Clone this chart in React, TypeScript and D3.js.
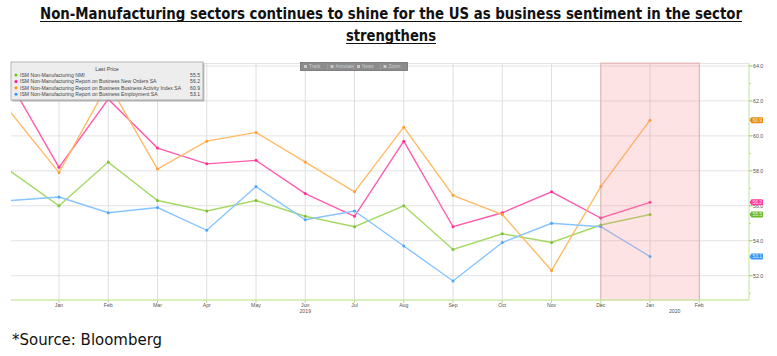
import React from "react";
import * as d3 from "d3";

const monthLabels = ["Dec", "Jan", "Feb", "Mar", "Apr", "May", "Jun", "Jul", "Aug", "Sep", "Oct", "Nov", "Dec", "Jan", "Feb"];
const yearLabels = [{ label: "2019", at: 6 }, { label: "2020", at: 13.5 }];
const nmi = [58.0, 56.0, 58.5, 56.3, 55.7, 56.3, 55.4, 54.8, 56.0, 53.5, 54.4, 53.9, 54.9, 55.5];
const newOrders = [63.1, 58.2, 62.1, 59.3, 58.4, 58.6, 56.7, 55.4, 59.7, 54.8, 55.6, 56.8, 55.3, 56.2];
const businessActivity = [61.4, 57.9, 63.0, 58.1, 59.7, 60.2, 58.5, 56.8, 60.5, 56.6, 55.5, 52.3, 57.1, 60.9];
const employment = [56.3, 56.5, 55.6, 55.9, 54.6, 57.1, 55.2, 55.7, 53.7, 51.7, 53.9, 55.0, 54.8, 53.1];
const yTicks = [52, 54, 56, 58, 60, 62, 64];
const yMinorTicks = [51, 53, 55, 57, 59, 61, 63];
const shadeRange = [12, 14];

const series = [
  { name: "ISM Non-Manufacturing NMI", values: nmi, line: "#a5d965", dot: "#7cc230", tag: "#6ab82a", legend: "#66cc00" },
  { name: "ISM Non-Manufacturing Report on Business New Orders SA", values: newOrders, line: "#ff5cad", dot: "#ff2f95", tag: "#ff3a9a", legend: "#ff1493" },
  { name: "ISM Non-Manufacturing Report on Business Business Activity Index SA", values: businessActivity, line: "#ffbb66", dot: "#ff9f30", tag: "#e38d10", legend: "#ff9900" },
  { name: "ISM Non-Manufacturing Report on Business Employment SA", values: employment, line: "#88c4ff", dot: "#4da6ff", tag: "#3d96f0", legend: "#3399ff" },
];

const W = 777;
const H = 356;
const left = 11;
const right = 749;
const top = 63;
const bottom = 300;

export default function App() {
  const x = d3.scaleLinear().domain([1, 14]).range([59, 699.3]);
  const y = d3.scaleLinear().domain([50.61, 64.17]).range([bottom, top]);
  const line = d3
    .line<number>()
    .x((_, i) => x(i))
    .y((v) => y(v));
  const small = "Liberation Sans, Arial, sans-serif";
  const title = "Liberation Sans Narrow, DejaVu Sans Condensed, Arial Narrow, sans-serif";
  const tickIdx = d3.range(1, 15);

  return (
    <svg width={W} height={H} style={{ position: "absolute", left: 0, top: 0, background: "#fff" }}>
      <defs>
        <clipPath id="plot">
          <rect x={left} y={top} width={right - left} height={bottom - top} />
        </clipPath>
      </defs>
      {/* title */}
      <text x={40} y={19} fontFamily={title} fontWeight="bold" fontSize={15} textLength={702} lengthAdjust="spacingAndGlyphs" fill="#111">
        Non-Manufacturing sectors continues to shine for the US as business sentiment in the sector
      </text>
      <line x1={40} x2={742} y1={21.5} y2={21.5} stroke="#111" strokeWidth={1} />
      <text x={346} y={41} fontFamily={title} fontWeight="bold" fontSize={15} textLength={90} lengthAdjust="spacingAndGlyphs" fill="#111">
        strengthens
      </text>
      <line x1={346} x2={436} y1={43.5} y2={43.5} stroke="#111" strokeWidth={1} />

      {/* grid */}
      <line x1={left} x2={right} y1={top + 0.5} y2={top + 0.5} stroke="#e4e4e4" />
      {yTicks.map((t) => (
        <line key={"h" + t} x1={left} x2={right} y1={y(t)} y2={y(t)} stroke="#e2e2e2" strokeWidth={1} />
      ))}
      {tickIdx.map((i) => (
        <line key={"v" + i} x1={x(i)} x2={x(i)} y1={top} y2={bottom} stroke="#dedede" strokeWidth={1} />
      ))}

      {/* lines */}
      <g clipPath="url(#plot)">
        {series.map((s) => (
          <g key={s.name}>
            <path d={line(s.values) || ""} fill="none" stroke={s.line} strokeWidth={1.4} />
            {s.values.map((v, i) => (
              <circle key={i} cx={x(i)} cy={y(v)} r={1.5} fill={s.dot} />
            ))}
          </g>
        ))}
      </g>

      {/* shaded region */}
      <rect
        x={x(shadeRange[0])}
        y={top}
        width={x(shadeRange[1]) - x(shadeRange[0])}
        height={bottom - top}
        fill="rgba(245,140,140,0.24)"
        stroke="rgba(225,140,140,0.5)"
        strokeWidth={1}
      />

      {/* axes */}
      <line x1={left} x2={right} y1={bottom} y2={bottom} stroke="#cdeaa8" strokeWidth={1.5} />
      <line x1={right} x2={right} y1={top} y2={bottom} stroke="#cdeaa8" strokeWidth={1.2} />
      {tickIdx.map((i) => (
        <g key={"xt" + i}>
          <line x1={x(i)} x2={x(i)} y1={bottom} y2={i === 12 ? 307 : 303} stroke="#b8dd90" strokeWidth={1} />
          <text x={x(i)} y={307} textAnchor="middle" fontFamily={small} fontSize={5.2} fill="#555">
            {monthLabels[i]}
          </text>
        </g>
      ))}
      {yearLabels.map((yl) => (
        <text key={yl.label} x={x(yl.at)} y={313} textAnchor="middle" fontFamily={small} fontSize={5.2} fill="#555">
          {yl.label}
        </text>
      ))}
      {yTicks.map((t) => (
        <g key={"yt" + t}>
          <line x1={right} x2={right + 3.5} y1={y(t)} y2={y(t)} stroke="#8fcf50" strokeWidth={1} />
          <text x={right + 4} y={y(t) + 1.8} fontFamily={small} fontSize={5.3} fill="#555">
            {t.toFixed(1)}
          </text>
        </g>
      ))}
      {yMinorTicks.map((t) => (
        <line key={"ym" + t} x1={right} x2={right + 2} y1={y(t)} y2={y(t)} stroke="#b8dd90" strokeWidth={1} />
      ))}

      {/* last-value tags */}
      {series.map((s) => {
        const v = s.values[s.values.length - 1];
        const cy = y(v);
        return (
          <g key={"tag" + s.name}>
            <path
              d={`M${right + 0.5},${cy} L${right + 2.5},${cy - 3} L${right + 13},${cy - 3} Q${right + 14},${cy - 3} ${right + 14},${cy - 2} L${right + 14},${cy + 2} Q${right + 14},${cy + 3} ${right + 13},${cy + 3} L${right + 2.5},${cy + 3} Z`}
              fill={s.tag}
            />
            <text x={right + 8.3} y={cy + 1.8} textAnchor="middle" fontFamily={small} fontSize={5} fill="#fff" fillOpacity={0.85}>
              {v.toFixed(1)}
            </text>
          </g>
        );
      })}

      {/* legend */}
      <rect x={12.5} y={63.5} width={192} height={38} fill="#9a9a9a" opacity={0.6} />
      <rect x={11} y={62} width={192} height={38} fill="rgba(242,242,242,0.88)" stroke="#a0a0a0" strokeWidth={0.8} />
      <text x={107} y={71} textAnchor="middle" fontFamily={small} fontSize={5.3} fill="#444">
        Last Price
      </text>
      {series.map((s, i) => {
        const cy = 75 + i * 6.4;
        return (
          <g key={"lg" + s.name}>
            <circle cx={16} cy={cy} r={1.5} fill={s.legend} />
            <text x={20} y={cy + 1.8} fontFamily={small} fontSize={5.1} fill="#444">
              {s.name}
            </text>
            <text x={200} y={cy + 1.8} textAnchor="end" fontFamily={small} fontSize={5.1} fill="#444">
              {s.values[s.values.length - 1].toFixed(1)}
            </text>
          </g>
        );
      })}

      {/* toolbar */}
      <rect x={300.5} y={62.5} width={107} height={8} fill="#8c8c8c" stroke="#6e6e6e" strokeWidth={0.8} />
      {["Track", "Annotate", "News", "Zoom"].map((t, i) => (
        <g key={t}>
          <rect x={304 + i * 26.5} y={65} width={3} height={3} fill="#c8c8c8" />
          <text x={309 + i * 26.5} y={68.2} fontFamily={small} fontSize={4.6} fill="#cfcfcf">
            {t}
          </text>
          {i > 0 && <line x1={301 + i * 26.5} x2={301 + i * 26.5} y1={63.5} y2={69.5} stroke="#a5a5a5" strokeWidth={0.6} />}
        </g>
      ))}

      {/* source */}
      <text x={12} y={345} fontFamily={title} fontSize={15} textLength={150} lengthAdjust="spacingAndGlyphs" fill="#111">
        *Source: Bloomberg
      </text>
    </svg>
  );
}
